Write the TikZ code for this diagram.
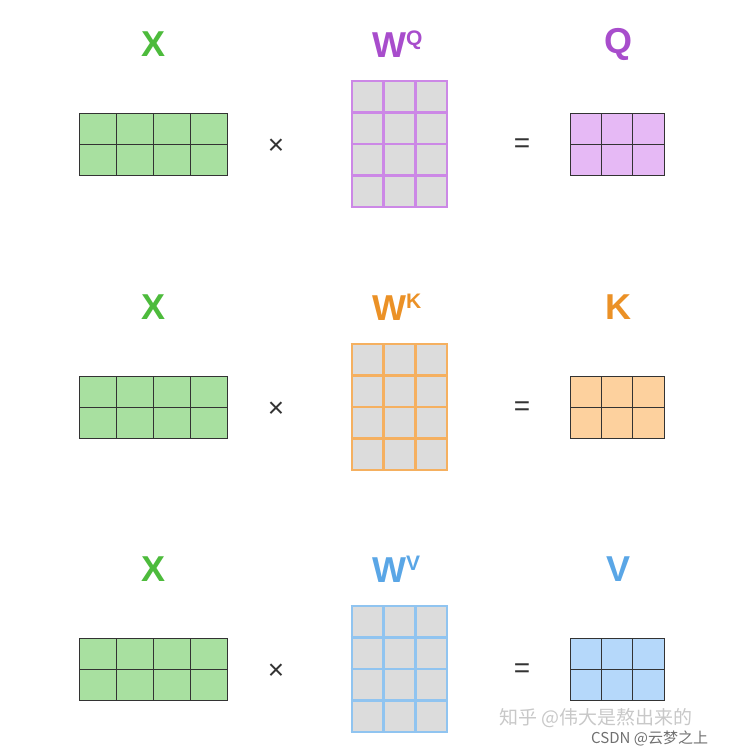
\documentclass[tikz,border=0pt]{standalone}
\usepackage{fontspec}
\setmainfont{Liberation Sans}
\newfontfamily\cjk{Noto Sans CJK SC}
\definecolor{xlab}{HTML}{4DBB3C}
\definecolor{xfill}{HTML}{A8E0A0}
\definecolor{gridk}{HTML}{333333}
\definecolor{wfill}{HTML}{DCDCDC}
\definecolor{qline}{HTML}{CC88E6}
\definecolor{qfill}{HTML}{E6B9F5}
\definecolor{qlab}{HTML}{A84DCC}
\definecolor{kline}{HTML}{F5B060}
\definecolor{kfill}{HTML}{FDD19E}
\definecolor{klab}{HTML}{EB9126}
\definecolor{vline}{HTML}{90C4F0}
\definecolor{vfill}{HTML}{B5D8FA}
\definecolor{vlab}{HTML}{5AA6E6}
\definecolor{wm}{HTML}{C8C8C8}
\tikzset{
  lab/.style={font=\fontsize{36}{36}\selectfont\bfseries, inner sep=0pt, anchor=center},
  op/.style={font=\fontsize{28}{28}\selectfont, text=gridk, inner sep=0pt},
  thin grid/.style={gridk, line width=0.9pt},
  wmark/.style={text=wm, inner sep=0pt, anchor=west}
}
\begin{document}
\begin{tikzpicture}[x=1pt,y=-1pt]
\useasboundingbox (0,0) rectangle (744,755);
\foreach \row/\dy/\lc/\ln/\fl/\sup/\res in {1/0/qlab/qline/qfill/Q/Q, 2/263/klab/kline/kfill/K/K, 3/525/vlab/vline/vfill/V/V}{
  % X matrix
  \fill[xfill] (79,113+\dy) rectangle (227,175+\dy);
  \foreach \i in {1,2,3}{\draw[thin grid] (79+\i*37,113+\dy) -- (79+\i*37,175+\dy);}
  \draw[thin grid] (79,144+\dy) -- (227,144+\dy);
  \draw[thin grid] (79,113+\dy) rectangle (227,175+\dy);
  \node[lab, text=xlab] (x\row) at (154,44+\dy) {X};
  % W matrix
  \fill[wfill] (352,81+\dy) rectangle (447,207+\dy);
  \foreach \i in {0,1,2,3}{\draw[\ln, line width=2.6pt] (352+\i*31.67,81+\dy) -- (352+\i*31.67,207+\dy);}
  \foreach \j in {0,1,2,3,4}{\draw[\ln, line width=2.6pt] (350.7,81+\dy+\j*31.5) -- (448.3,81+\dy+\j*31.5);}
  \node[lab, text=\lc, anchor=base west] (w\row) at (372,57+\dy) {W\raisebox{0.33em}{\fontsize{21}{21}\selectfont\sup}};
  % operators
  \node[op] (m\row) at (276,147+\dy) {×};
  \node[op] (e\row) at (522,146+\dy) {=};
  % result matrix
  \fill[\fl] (570,113+\dy) rectangle (664,175+\dy);
  \foreach \i in {1,2}{\draw[thin grid] (570+\i*31.33,113+\dy) -- (570+\i*31.33,175+\dy);}
  \draw[thin grid] (570,144+\dy) -- (664,144+\dy);
  \draw[thin grid] (570,113+\dy) rectangle (664,175+\dy);
  \node[lab, text=\lc] (r\row) at (618,44+\dy) {\res};
}
\node[wmark, font=\cjk\fontsize{19}{19}\selectfont] (wm1) at (499,718) {知乎 @伟大是熬出来的};
\node[wmark, font=\cjk\fontsize{15}{15}\selectfont, text=gridk!70] (wm2) at (591,738) {CSDN @云梦之上};
\end{tikzpicture}
\end{document}
